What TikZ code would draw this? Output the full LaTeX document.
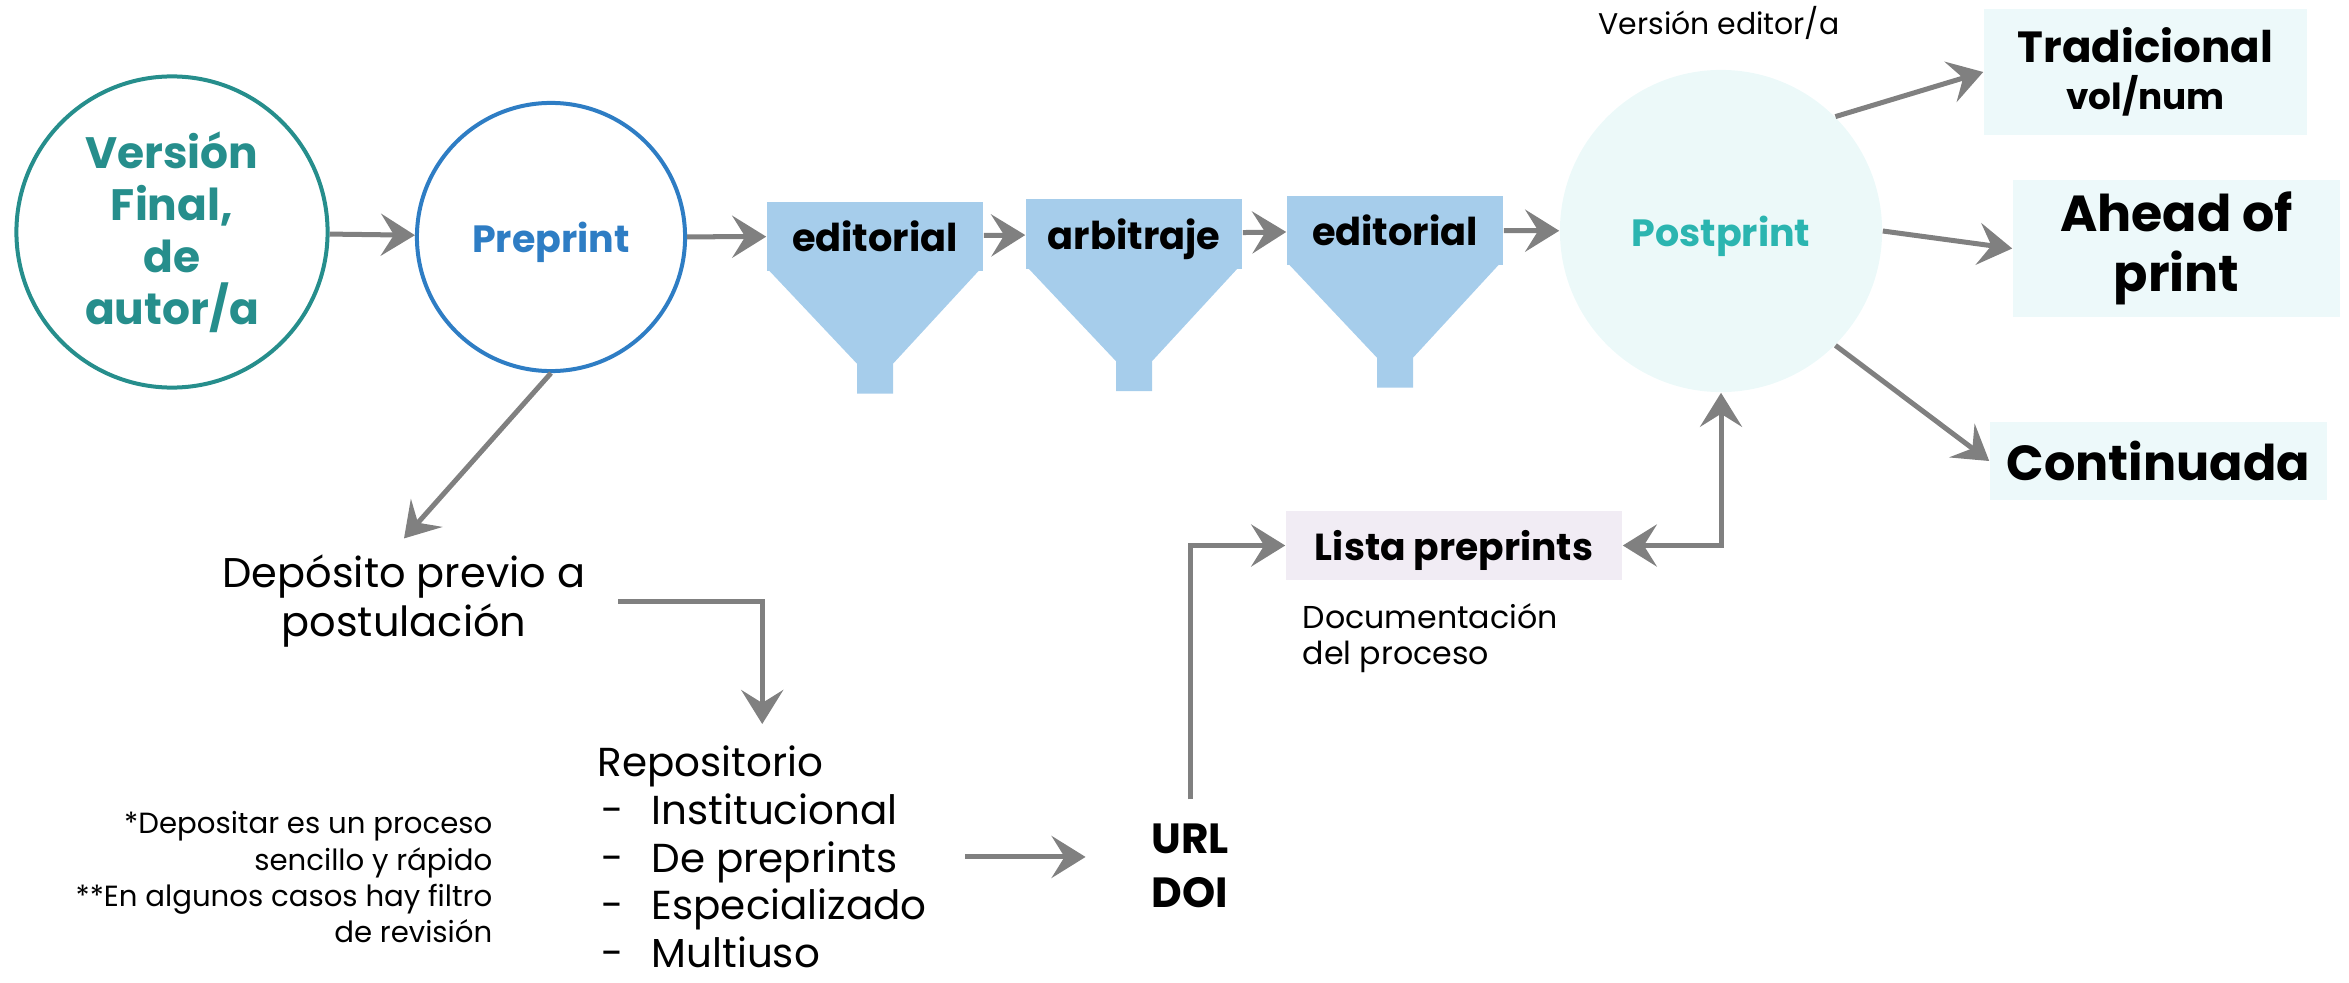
\documentclass[tikz,border=0pt]{standalone}
\usepackage{fontspec}
\setmainfont{Poppins}
\usetikzlibrary{arrows.meta,calc}
\definecolor{autorteal}{RGB}{38,142,140}
\definecolor{preblue}{RGB}{46,125,196}
\definecolor{funnelblue}{RGB}{166,205,235}
\definecolor{postfill}{RGB}{236,249,249}
\definecolor{postteal}{RGB}{43,181,176}
\definecolor{boxfill}{RGB}{237,249,250}
\definecolor{listfill}{RGB}{241,236,244}
\definecolor{arrowgray}{RGB}{128,128,128}
\tikzset{
  arr/.style={->, line width=0.05cm, draw=arrowgray},
  funnel/.style={fill=funnelblue, minimum width=2.16cm, minimum height=0.69cm, inner sep=0pt,
    text depth=0pt, font=\fontsize{10.9}{13}\selectfont\bfseries},
  outbox/.style={fill=boxfill, inner sep=0pt, align=center},
}
\begin{document}
\begin{tikzpicture}[x=0.01cm, y=-0.01cm, >={Stealth[length=0.34cm, width=0.42cm, inset=0.13cm]}]
\useasboundingbox (0,0) rectangle (2349,982);

\node[circle, draw=autorteal, line width=0.04cm, minimum size=3.11cm, inner sep=0pt, align=center,
  text=autorteal, font=\fontsize{12.5}{14.8}\selectfont\bfseries] (autor) at (172,232) {Versión\\Final,\\de\\autor/a};
\node[circle, draw=preblue, line width=0.04cm, minimum size=2.68cm, inner sep=0pt, text depth=0pt,
  text=preblue, font=\fontsize{10.8}{13}\selectfont\bfseries] (preprint) at (551,237) {Preprint};

\node[funnel] (edin) at (875,236.5) {editorial};
\node[funnel] (arbi) at (1134,234) {arbitraje};
\node[funnel] (edout) at (1395,230.5) {editorial};
\foreach \f in {edin, arbi, edout} {
  \fill[funnelblue] ($(\f.south west)+(3,-1)$) -- ($(\f.south east)+(-5,-1)$) -- ($(\f.south)+(18,92)$)
    -- ($(\f.south)+(18,122)$) -- ($(\f.south)+(-18,122)$) -- ($(\f.south)+(-18,92)$) -- cycle;
}

\node[circle, fill=postfill, minimum size=3.22cm, inner sep=0pt, text depth=0pt,
  text=postteal, font=\fontsize{10.8}{13}\selectfont\bfseries] (postprint) at (1721,231) {Postprint};
\node[anchor=base, font=\fontsize{8.5}{10}\selectfont] (vered) at (1719,35) {Versión editor/a};

\node[outbox, minimum width=3.23cm, minimum height=1.26cm, font=\fontsize{12.4}{13.4}\selectfont\bfseries]
  (trad) at (2145.5,72) {Tradicional\\{\fontsize{10.2}{13.4}\selectfont vol/num}};
\node[outbox, minimum width=3.27cm, minimum height=1.37cm, font=\fontsize{14.4}{17}\selectfont\bfseries]
  (ahead) at (2176.5,248.5) {Ahead of\\print};
\node[outbox, minimum width=3.37cm, minimum height=0.78cm, font=\fontsize{14}{16}\selectfont\bfseries]
  (cont) at (2158.5,461) {Continuada};

\draw[arr] (autor) -- (preprint);
\draw[arr] (preprint) -- (edin);
\draw[arr] (edin) -- (arbi);
\draw[arr] (arbi) -- (edout);
\draw[arr] (edout) -- (postprint);
\draw[arr] (postprint.45) -- (trad.west);
\draw[arr] (postprint.east) -- (ahead.west);
\draw[arr] (postprint.-45) -- (cont.west);

% deposito en repositorio
\node[align=center, inner sep=0pt, font=\fontsize{11.8}{13.7}\selectfont] (depo) at (404,601) {Depósito previo a\\postulación};
\node[align=left, anchor=north west, inner xsep=0.38cm, inner ysep=0.21cm, font=\fontsize{11.5}{13.6}\selectfont]
  (repo) at (559,724) {Repositorio\\
  \makebox[0.54cm][l]{\hspace{0.04cm}-}Institucional\\
  \makebox[0.54cm][l]{\hspace{0.04cm}-}De preprints\\
  \makebox[0.54cm][l]{\hspace{0.04cm}-}Especializado\\
  \makebox[0.54cm][l]{\hspace{0.04cm}-}Multiuso};
\node[align=right, anchor=north east, inner sep=0pt, font=\fontsize{8.3}{10.3}\selectfont]
  (notes) at (493,811) {*Depositar es un proceso\\sencillo y rápido\\**En algunos casos hay filtro\\de revisión};
\node[align=center, inner xsep=0.65cm, inner ysep=0.24cm, font=\fontsize{12}{15.4}\selectfont\bfseries]
  (url) at (1190,866) {URL\\DOI};
\node[fill=listfill, minimum width=3.36cm, minimum height=0.69cm, inner sep=0pt, text depth=0pt,
  font=\fontsize{10.7}{13}\selectfont\bfseries] (lista) at (1454,545.5) {Lista preprints};
\node[align=left, anchor=north west, inner sep=0pt, font=\fontsize{9}{10.3}\selectfont]
  (doc) at (1302,603) {Documentación\\del proceso};

\draw[arr] (preprint.south) -- ([yshift=0.16cm]depo.north);
\draw[arr] ([xshift=0.32cm]depo.east) -| (repo.north);
\draw[arr] (repo.east) -- (repo.east -| url.west);
\draw[arr] (url.north) |- (lista.west);
\draw[arr, <->] (lista.east) -| (postprint.south);
\end{tikzpicture}
\end{document}
